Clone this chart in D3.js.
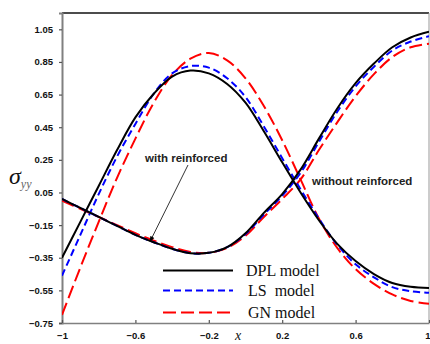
<!DOCTYPE html>
<html>
<head>
<meta charset="utf-8">
<script src="https://cdn.jsdelivr.net/npm/d3@7"></script>
<style>
  body { margin: 0; background: #fff; }
  svg { display: block; }
</style>
</head>
<body>
<svg id="chart" width="430" height="344"></svg>
<script>
// x positions shared by every curve
const xs = [-1, -0.9, -0.8, -0.7, -0.6, -0.5, -0.4, -0.3, -0.2, -0.1, 0, 0.1, 0.2, 0.3, 0.4, 0.5, 0.6, 0.7, 0.8, 0.9, 1]

// without reinforced
const withoutDPL = [-0.35, -0.13, 0.09, 0.31, 0.51, 0.655, 0.76, 0.797, 0.78, 0.715, 0.6, 0.425, 0.235, 0.05, -0.12, -0.265, -0.37, -0.45, -0.505, -0.528, -0.535]
const withoutLS = [-0.46, -0.21, 0.04, 0.27, 0.47, 0.655, 0.78, 0.825, 0.815, 0.75, 0.635, 0.455, 0.26, 0.07, -0.11, -0.27, -0.39, -0.47, -0.53, -0.555, -0.565]
const withoutGN = [-0.70, -0.41, -0.13, 0.14, 0.38, 0.60, 0.77, 0.87, 0.905, 0.86, 0.75, 0.58, 0.37, 0.13, -0.11, -0.29, -0.42, -0.51, -0.575, -0.615, -0.632]

// with reinforced
const withDPL = [0.01, -0.045, -0.1, -0.155, -0.21, -0.255, -0.295, -0.322, -0.32, -0.285, -0.2, -0.075, 0.04, 0.19, 0.38, 0.565, 0.72, 0.84, 0.94, 1.0, 1.035]
const withLS = [0.01, -0.045, -0.1, -0.155, -0.21, -0.255, -0.295, -0.322, -0.32, -0.285, -0.205, -0.085, 0.03, 0.17, 0.36, 0.545, 0.70, 0.82, 0.92, 0.975, 1.007]
const withGN = [0.0, -0.05, -0.1, -0.15, -0.2, -0.245, -0.285, -0.315, -0.32, -0.29, -0.215, -0.1, 0.01, 0.13, 0.31, 0.48, 0.64, 0.775, 0.88, 0.94, 0.962]

const xTicks = [-1, -0.6, -0.2, 0.2, 0.6, 1]
const yTicks = [-0.75, -0.55, -0.35, -0.15, 0.05, 0.25, 0.45, 0.65, 0.85, 1.05]
const legendLabels = ["DPL model", "LS\u00a0 model", "GN model"]

const models = [
    {name: "DPL", color: "#000", dash: null, width: 2},
    {name: "LS", color: "#0000ff", dash: "7,4", width: 2},
    {name: "GN", color: "#ff0000", dash: "13,5", width: 2}
]
const series = [
    {model: 0, values: withoutDPL}, {model: 1, values: withoutLS}, {model: 2, values: withoutGN},
    {model: 0, values: withDPL}, {model: 1, values: withLS}, {model: 2, values: withGN}
]

const svg = d3.select("#chart")
const plotLeft = 62, plotRight = 429, plotTop = 13, plotBottom = 323

const xScale = d3.scaleLinear().domain([-1, 1]).range([plotLeft, plotRight])
const yScale = d3.scaleLinear().domain([-0.75, 1.15]).range([plotBottom, plotTop])

const tickFont = "'Liberation Sans', Arial, sans-serif"

// frame: top & right
svg.append("line").attr("x1", plotLeft).attr("x2", plotRight).attr("y1", plotTop).attr("y2", plotTop)
    .attr("stroke", "#111").attr("stroke-width", 1.6)
svg.append("line").attr("x1", plotRight).attr("x2", plotRight).attr("y1", plotTop).attr("y2", plotBottom)
    .attr("stroke", "#999").attr("stroke-width", 1)

// axes
let yAxis = d3.axisLeft(yScale).tickValues(yTicks).tickSize(3).tickFormat(d3.format(".2f"))
let gy = svg.append("g").attr("transform", `translate(${plotLeft},0)`).call(yAxis)
gy.select(".domain").attr("stroke", "#808080").attr("stroke-width", 2)
gy.selectAll(".tick line").attr("stroke", "#555").attr("stroke-width", 1.2)
gy.selectAll("text").attr("x", -9).attr("fill", "#111")
    .style("font", `bold 9.5px ${tickFont}`)

let xAxis = d3.axisBottom(xScale).tickValues(xTicks).tickSizeInner(-3).tickSizeOuter(0)
    .tickFormat(d => d === 1 || d === -1 ? d3.format("d")(d) : d3.format(".1f")(d))
let gx = svg.append("g").attr("transform", `translate(0,${plotBottom})`).call(xAxis)
gx.select(".domain").attr("stroke", "#808080").attr("stroke-width", 1.6)
gx.selectAll(".tick line").attr("stroke", "#555").attr("stroke-width", 1.2)
gx.selectAll("text").attr("y", 9).attr("fill", "#111")
    .style("font", `bold 9.5px ${tickFont}`)
// last label sits at the right edge, keep it inside the window
gx.selectAll(".tick text").filter(d => d === 1).attr("text-anchor", "end").attr("x", 1)

// curves
let line = d3.line()
    .x((d, i) => xScale(xs[i]))
    .y(d => yScale(d))
    .curve(d3.curveCatmullRom.alpha(0.5))

svg.append("defs").append("clipPath").attr("id", "clip")
    .append("rect").attr("x", plotLeft).attr("y", plotTop)
    .attr("width", plotRight - plotLeft).attr("height", plotBottom - plotTop)

svg.append("g").attr("clip-path", "url(#clip)")
    .selectAll("path").data(series.slice().sort((a, b) => b.model - a.model)).join("path")
    .attr("d", d => line(d.values))
    .attr("fill", "none")
    .attr("stroke", d => models[d.model].color)
    .attr("stroke-width", d => models[d.model].width)
    .attr("stroke-dasharray", d => models[d.model].dash)

// legend
let legend = svg.append("g")
legendLabels.forEach((label, i) => {
    let ly = [270.5, 290.5, 312.5][i]
    legend.append("line").attr("x1", 163).attr("x2", 233).attr("y1", ly).attr("y2", ly)
        .attr("stroke", models[i].color).attr("stroke-width", 2)
        .attr("stroke-dasharray", models[i].dash)
    legend.append("text").attr("x", i === 0 ? 246 : 248).attr("y", ly + 5)
        .style("font", "16px 'Liberation Serif', 'Times New Roman', serif")
        .attr("fill", "#111")
        .text(label)
})

// annotations
const annoFont = `bold 11.5px ${tickFont}`
svg.append("text").attr("x", 145).attr("y", 162).style("font", annoFont).attr("fill", "#222")
    .text("with reinforced")
svg.append("text").attr("x", 312).attr("y", 185).style("font", annoFont).attr("fill", "#222")
    .text("without reinforced")

svg.append("defs").append("marker").attr("id", "arrow")
    .attr("viewBox", "0 0 10 10").attr("refX", 9).attr("refY", 5)
    .attr("markerWidth", 7).attr("markerHeight", 7).attr("orient", "auto")
    .append("path").attr("d", "M0,1L10,5L0,9Z").attr("fill", "#000")

const arrowTip = [-0.52, -0.25]
svg.append("line").attr("x1", 188).attr("y1", 165)
    .attr("x2", xScale(arrowTip[0])).attr("y2", yScale(arrowTip[1]))
    .attr("stroke", "#000").attr("stroke-width", 0.8)
    .attr("marker-end", "url(#arrow)")

// axis titles
let ylab = svg.append("text").attr("x", 9).attr("y", 184)
    .style("font", "italic 24px 'Liberation Serif', 'Times New Roman', serif").attr("fill", "#111")
ylab.append("tspan").text("\u03c3")
ylab.append("tspan").attr("dy", 4).style("font-size", "12px").attr("fill", "#666").text("yy")

svg.append("text").attr("x", 235).attr("y", 340)
    .style("font", "italic 14px 'Liberation Serif', 'Times New Roman', serif").attr("fill", "#111")
    .text("x")
</script>
</body>
</html>
